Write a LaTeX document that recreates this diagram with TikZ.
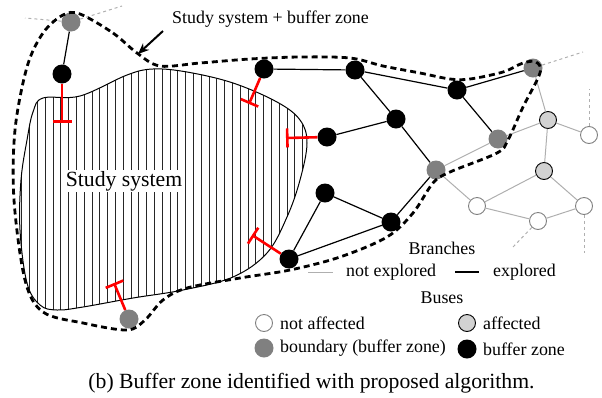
\documentclass[tikz,border=0pt]{standalone}
\usepackage{fontspec}
\setmainfont{Liberation Serif}
\usetikzlibrary{arrows.meta}
\definecolor{bdgray}{RGB}{128,128,128}
\definecolor{afgray}{RGB}{210,210,210}
\definecolor{nagray}{RGB}{128,128,128}
\definecolor{nexgray}{RGB}{175,175,175}
\begin{document}
\begin{tikzpicture}[x=1pt,y=-1pt,
  bz/.style={circle,fill=black,minimum size=19pt,inner sep=0pt},
  bd/.style={circle,fill=bdgray,minimum size=19pt,inner sep=0pt},
  af/.style={circle,fill=afgray,draw=black,line width=0.9pt,minimum size=17pt,inner sep=0pt},
  na/.style={circle,fill=white,draw=nagray,line width=0.9pt,minimum size=17pt,inner sep=0pt},
  exp/.style={black,line width=1.2pt},
  nexp/.style={nexgray,line width=1pt},
  stub/.style={nexgray,line width=1pt,dashed},
  cut/.style={red,line width=2.6pt,-{Bar[width=19pt]}},
  bzone/.style={black,line width=2.8pt,dash pattern=on 6pt off 4pt},
  lg/.style={font=\fontsize{17.9}{20}\selectfont,inner sep=0pt},
  big/.style={font=\fontsize{21.7}{24}\selectfont,inner sep=0pt}
]
\useasboundingbox (0,0) rectangle (602,397);

% study system with hatching
\def\studypath{plot[smooth cycle,tension=0.6] coordinates {(43,98) (80,96) (127,75) (153,69) (187,72) (233,83) (277,102) (300,120) (307,143) (300,180) (287,217) (267,253) (233,277) (183,290) (133,298) (83,307) (57,310) (40,305) (27,283) (20,230) (21,180) (27,140) (33,112)}}
\begin{scope}
  \clip \studypath;
  \foreach \x in {14,21.8,...,312} \draw[line width=0.8pt,black!85] (\x,60) -- (\x,320);
\end{scope}
\draw[black,line width=1pt] \studypath;
\node[big,fill=white,inner sep=1.5pt] (ss) at (124,181) {Study system};

% buses
\node[bd] (g1) at (71,22) {};
\node[bz] (b1) at (62,74) {};
\node[bz] (b2) at (264,69) {};
\node[bz] (b3) at (355,70) {};
\node[bz] (b4) at (457,90) {};
\node[bd] (g2) at (533,68) {};
\node[bz] (b5) at (396,119) {};
\node[bz] (b6) at (327,137) {};
\node[bd] (g3) at (498,139) {};
\node[af] (a1) at (548,120) {};
\node[na] (w1) at (589,135) {};
\node[af] (a2) at (544,171) {};
\node[bd] (g4) at (436,170) {};
\node[bz] (b7) at (325,193) {};
\node[bz] (b8) at (391,222) {};
\node[bz] (b9) at (289,259) {};
\node[na] (w2) at (477,206) {};
\node[na] (w3) at (538,221) {};
\node[na] (w4) at (584,206) {};
\node[bd] (g5) at (129,319) {};

% stub ends
\coordinate (s1) at (25,18);
\coordinate (s2) at (122,6);
\coordinate (s3) at (583,52);
\coordinate (s4) at (589,89);
\coordinate (s5) at (513,247);
\coordinate (s6) at (584,253);

% explored branches
\draw[exp] (g1) -- (b1);
\draw[exp] (b2) -- (b3);
\draw[exp] (b3) -- (b4);
\draw[exp] (b3) -- (b5);
\draw[exp] (b4) -- (g2);
\draw[exp] (b4) -- (g3);
\draw[exp] (b5) -- (b6);
\draw[exp] (b5) -- (g4);
\draw[exp] (g4) -- (b8);
\draw[exp] (b8) -- (b7);
\draw[exp] (b7) -- (b9);
\draw[exp] (b9) -- (b8);

% not explored branches
\draw[nexp] (g2) -- (a1);
\draw[nexp] (a1) -- (w1);
\draw[nexp] (a1) -- (g3);
\draw[nexp] (a1) -- (a2);
\draw[nexp] (g3) -- (g4);
\draw[nexp] (g4) -- (w2);
\draw[nexp] (a2) -- (w2);
\draw[nexp] (a2) -- (w4);
\draw[nexp] (w2) -- (w3);
\draw[nexp] (w3) -- (w4);
\draw[stub] (g1) -- (s1);
\draw[stub] (g1) -- (s2);
\draw[stub] (g2) -- (s3);
\draw[stub] (w1) -- (s4);
\draw[stub] (w3) -- (s5);
\draw[stub] (w4) -- (s6);

% cut branches
\coordinate (t1) at (62,123);
\coordinate (t2) at (249,104);
\coordinate (t3) at (286,138);
\coordinate (t4) at (252,235);
\coordinate (t5) at (114,283);
\draw[cut] (b1) -- (t1);
\draw[cut] (b2) -- (t2);
\draw[cut] (b6) -- (t3);
\draw[cut] (b9) -- (t4);
\draw[cut] (g5) -- (t5);

% buffer zone boundary
\draw[bzone] plot[smooth cycle,tension=0.55] coordinates {(80,14) (113,33) (137,53) (160,66) (200,63) (250,59) (300,57) (350,58) (383,66) (420,73) (450,79) (470,79) (503,72) (523,63) (536,62) (540,73) (523,107) (508,140) (497,153) (450,172) (433,183) (413,213) (387,237) (340,257) (290,270) (240,278) (187,288) (163,300) (145,320) (127,330) (83,323) (43,312) (25,280) (14,200) (15,130) (27,67) (43,33) (63,15)};

% label with arrow
\node[lg,anchor=west] (lab) at (172,19) {Study system + buffer zone};
\coordinate (arrS) at (163,31);
\coordinate (arrE) at (138,54);
\draw[black,line width=2pt,-{Stealth[length=11pt,width=9pt]}] (arrS) -- (arrE);

% legend
\node[lg] (lbr) at (442,248) {Branches};
\coordinate (l1a) at (308,272);
\coordinate (l1b) at (333,272);
\draw[nexp] (l1a) -- (l1b);
\node[lg,anchor=west] (lne) at (346,272) {not explored};
\coordinate (l2a) at (455,272);
\coordinate (l2b) at (479,272);
\draw[exp] (l2a) -- (l2b);
\node[lg,anchor=west] (lex) at (493,272) {explored};
\node[lg] (lbu) at (442,298) {Buses};
\node[na] (lna) at (264,323) {};
\node[lg,anchor=west] (lnat) at (280,323) {not affected};
\node[af] (laf) at (467,323) {};
\node[lg,anchor=west] (laft) at (483,323) {affected};
\node[bd] (lbd) at (264,348) {};
\node[lg,anchor=west] (lbdt) at (280,348) {boundary (buffer zone)};
\node[bz] (lbz) at (467,349) {};
\node[lg,anchor=west] (lbzt) at (483,349) {buffer zone};

% caption
\node[big] (cap) at (311.5,383) {(b) Buffer zone identified with proposed algorithm.};
\end{tikzpicture}
\end{document}
